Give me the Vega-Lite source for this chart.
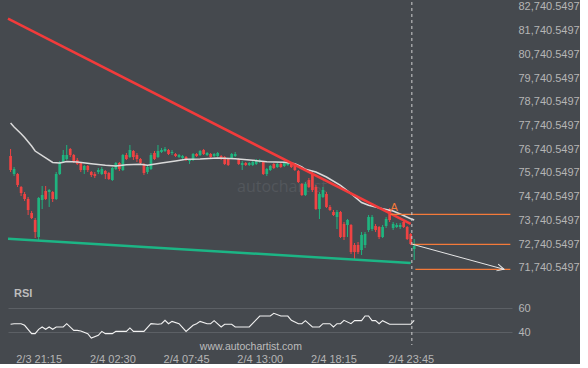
{
"$schema": "https://vega.github.io/schema/vega-lite/v6.json",
"width": 504, "height": 343,
"padding": {"left": 3, "top": 0, "right": 0, "bottom": 0},
"background": "#45494e",
"config": {"view": {"stroke": null}, "font": "Liberation Sans",
  "axis": {"domain": false, "ticks": false, "grid": false, "labelColor": "#b5b5b5", "labelFontSize": 11, "labelFlush": false, "labelOverlap": false, "labelSeparation": -40, "labelFont": "Liberation Sans"}},
"encoding": {
  "x": {"field": "t", "type": "temporal",
    "scale": {"type": "utc", "padding": 0, "domain": [{"year": 2026, "month": 2, "date": 3, "hours": 19, "minutes": 4, "utc": true}, {"year": 2026, "month": 2, "date": 5, "hours": 6, "minutes": 58, "utc": true}]},
    "axis": {"title": null, "format": "%-m/%-d %H:%M", "labelPadding": 8, "labelOverlap": false,
      "values": [
        {"year": 2026, "month": 2, "date": 3, "hours": 21, "minutes": 15, "utc": true},
        {"year": 2026, "month": 2, "date": 4, "hours": 2, "minutes": 30, "utc": true},
        {"year": 2026, "month": 2, "date": 4, "hours": 7, "minutes": 45, "utc": true},
        {"year": 2026, "month": 2, "date": 4, "hours": 13, "minutes": 0, "utc": true},
        {"year": 2026, "month": 2, "date": 4, "hours": 18, "minutes": 15, "utc": true},
        {"year": 2026, "month": 2, "date": 4, "hours": 23, "minutes": 45, "utc": true}]}}
},
"layer": [
 {"layer": [
  {"data": {"values": [{"t": "2026-02-04T14:35:00Z", "v": 74935}]},
   "mark": {"type": "text", "text": "autochartist", "font": "Open Sans", "fontSize": 16, "letterSpacing": 2.5, "color": "#53575c", "align": "center", "baseline": "alphabetic"},
   "encoding": {"y": {"field": "v", "type": "quantitative", "scale": {"domain": [68480.3, 82951.5], "zero": false, "nice": false}, "axis": {"orient": "right", "title": null, "format": ",.4f", "labelPadding": 6, "labelOverlap": false, "labelSeparation": -40, "labelBound": false, "values": [71740.5497, 72740.5497, 73740.5497, 74740.5497, 75740.5497, 76740.5497, 77740.5497, 78740.5497, 79740.5497, 80740.5497, 81740.5497, 82740.5497]}}}},
  {"data": {"name": "candles"},
   "mark": {"type": "rule", "strokeWidth": 1},
   "encoding": {
     "y": {"field": "l", "type": "quantitative", "scale": {"domain": [68480.3, 82951.5], "zero": false, "nice": false},
       "axis": {"orient": "right", "title": null, "format": ",.4f", "labelPadding": 6, "labelOverlap": false, "labelSeparation": -40, "labelBound": false, "values": [71740.5497, 72740.5497, 73740.5497, 74740.5497, 75740.5497, 76740.5497, 77740.5497, 78740.5497, 79740.5497, 80740.5497, 81740.5497, 82740.5497]}},
     "y2": {"field": "h"},
     "color": {"condition": {"test": "datum.c < datum.o", "value": "#ef4343"}, "value": "#1fb47f"}}},
  {"data": {"name": "candles"},
   "mark": {"type": "bar", "size": 2.7},
   "encoding": {
     "y": {"field": "o", "type": "quantitative", "scale": {"domain": [68480.3, 82951.5], "zero": false, "nice": false}, "axis": {"orient": "right", "title": null, "format": ",.4f", "labelPadding": 6, "labelOverlap": false, "labelSeparation": -40, "labelBound": false, "values": [71740.5497, 72740.5497, 73740.5497, 74740.5497, 75740.5497, 76740.5497, 77740.5497, 78740.5497, 79740.5497, 80740.5497, 81740.5497, 82740.5497]}},
     "y2": {"field": "c"},
     "color": {"condition": {"test": "datum.c < datum.o", "value": "#ef4343"}, "value": "#1fb47f"}}},
  {"data": {"name": "ma"},
   "mark": {"type": "line", "color": "#dadada", "strokeWidth": 1.5},
   "encoding": {"y": {"field": "v", "type": "quantitative", "scale": {"domain": [68480.3, 82951.5], "zero": false, "nice": false}, "axis": {"orient": "right", "title": null, "format": ",.4f", "labelPadding": 6, "labelOverlap": false, "labelSeparation": -40, "labelBound": false, "values": [71740.5497, 72740.5497, 73740.5497, 74740.5497, 75740.5497, 76740.5497, 77740.5497, 78740.5497, 79740.5497, 80740.5497, 81740.5497, 82740.5497]}}}},
  {"data": {"values": [{"t": "2026-02-03T19:04:00Z", "v": 82247}, {"t": "2026-02-04T23:45:00Z", "v": 73594}]},
   "mark": {"type": "line", "color": "#f23b3b", "strokeWidth": 2.5},
   "encoding": {"y": {"field": "v", "type": "quantitative", "scale": {"domain": [68480.3, 82951.5], "zero": false, "nice": false}, "axis": {"orient": "right", "title": null, "format": ",.4f", "labelPadding": 6, "labelOverlap": false, "labelSeparation": -40, "labelBound": false, "values": [71740.5497, 72740.5497, 73740.5497, 74740.5497, 75740.5497, 76740.5497, 77740.5497, 78740.5497, 79740.5497, 80740.5497, 81740.5497, 82740.5497]}}}},
  {"data": {"values": [{"t": "2026-02-03T19:04:00Z", "v": 72965}, {"t": "2026-02-04T23:45:00Z", "v": 71940}]},
   "mark": {"type": "line", "color": "#1cb585", "strokeWidth": 2.5},
   "encoding": {"y": {"field": "v", "type": "quantitative", "scale": {"domain": [68480.3, 82951.5], "zero": false, "nice": false}, "axis": {"orient": "right", "title": null, "format": ",.4f", "labelPadding": 6, "labelOverlap": false, "labelSeparation": -40, "labelBound": false, "values": [71740.5497, 72740.5497, 73740.5497, 74740.5497, 75740.5497, 76740.5497, 77740.5497, 78740.5497, 79740.5497, 80740.5497, 81740.5497, 82740.5497]}}}},
  {"data": {"values": [
     {"id": 1, "t": "2026-02-04T22:18:00Z", "v": 73995}, {"id": 1, "t": "2026-02-05T06:51:00Z", "v": 73995},
     {"id": 2, "t": "2026-02-04T23:50:00Z", "v": 72729}, {"id": 2, "t": "2026-02-05T06:51:00Z", "v": 72729},
     {"id": 3, "t": "2026-02-05T00:05:00Z", "v": 71674}, {"id": 3, "t": "2026-02-05T06:51:00Z", "v": 71674}]},
   "mark": {"type": "line", "color": "#f47a3a", "strokeWidth": 1.3},
   "encoding": {"detail": {"field": "id"}, "y": {"field": "v", "type": "quantitative", "scale": {"domain": [68480.3, 82951.5], "zero": false, "nice": false}, "axis": {"orient": "right", "title": null, "format": ",.4f", "labelPadding": 6, "labelOverlap": false, "labelSeparation": -40, "labelBound": false, "values": [71740.5497, 72740.5497, 73740.5497, 74740.5497, 75740.5497, 76740.5497, 77740.5497, 78740.5497, 79740.5497, 80740.5497, 81740.5497, 82740.5497]}}}},
  {"data": {"values": [{"t": "2026-02-04T23:53:00Z", "v": 72729}, {"t": "2026-02-05T06:24:00Z", "v": 71674}]},
   "mark": {"type": "line", "color": "#e6e6e6", "strokeWidth": 1},
   "encoding": {"y": {"field": "v", "type": "quantitative", "scale": {"domain": [68480.3, 82951.5], "zero": false, "nice": false}, "axis": {"orient": "right", "title": null, "format": ",.4f", "labelPadding": 6, "labelOverlap": false, "labelSeparation": -40, "labelBound": false, "values": [71740.5497, 72740.5497, 73740.5497, 74740.5497, 75740.5497, 76740.5497, 77740.5497, 78740.5497, 79740.5497, 80740.5497, 81740.5497, 82740.5497]}}}},
  {"data": {"values": [{"t": "2026-02-05T06:24:00Z", "v": 71674}]},
   "mark": {"type": "point", "shape": "M-2,-1L0,0L-2,1", "filled": false, "stroke": "#e6e6e6", "strokeWidth": 1, "size": 49, "angle": 15, "opacity": 1},
   "encoding": {"y": {"field": "v", "type": "quantitative", "scale": {"domain": [68480.3, 82951.5], "zero": false, "nice": false}, "axis": {"orient": "right", "title": null, "format": ",.4f", "labelPadding": 6, "labelOverlap": false, "labelSeparation": -40, "labelBound": false, "values": [71740.5497, 72740.5497, 73740.5497, 74740.5497, 75740.5497, 76740.5497, 77740.5497, 78740.5497, 79740.5497, 80740.5497, 81740.5497, 82740.5497]}}}},
  {"data": {"values": [{"t": "2026-02-04T22:34:00Z", "v": 74260}]},
   "mark": {"type": "text", "text": "A", "fontSize": 11, "color": "#f47a3a", "align": "center", "baseline": "middle"},
   "encoding": {"y": {"field": "v", "type": "quantitative", "scale": {"domain": [68480.3, 82951.5], "zero": false, "nice": false}, "axis": {"orient": "right", "title": null, "format": ",.4f", "labelPadding": 6, "labelOverlap": false, "labelSeparation": -40, "labelBound": false, "values": [71740.5497, 72740.5497, 73740.5497, 74740.5497, 75740.5497, 76740.5497, 77740.5497, 78740.5497, 79740.5497, 80740.5497, 81740.5497, 82740.5497]}}}}
 ]},
 {"layer": [
  {"data": {"name": "rsi"},
   "mark": {"type": "line", "color": "#f2f2f2", "strokeWidth": 1.1},
   "encoding": {"y": {"field": "r", "type": "quantitative", "scale": {"domain": [29.59, 311.5], "zero": false, "nice": false},
     "axis": {"orient": "right", "title": null, "values": [40, 60], "grid": true, "gridColor": "#5c6065", "gridWidth": 1, "labelPadding": 6, "labelOverlap": false}}}},
  {"data": {"values": [{"t": "2026-02-04T23:50:00Z"}]},
   "mark": {"type": "rule", "color": "#d0d0d0", "strokeWidth": 1, "strokeDash": [3, 3]},
   "encoding": {}},
  {"data": {"values": [{"t": "2026-02-03T19:30:00Z", "r": 71.5}]},
   "mark": {"type": "text", "text": "RSI", "fontSize": 11, "fontWeight": "bold", "color": "#bdbdbd", "align": "left", "baseline": "middle"},
   "encoding": {"y": {"field": "r", "type": "quantitative", "scale": {"domain": [29.59, 311.5], "zero": false, "nice": false}, "axis": {"orient": "right", "title": null, "values": [40, 60], "grid": true, "gridColor": "#5c6065", "gridWidth": 1, "labelPadding": 6, "labelOverlap": false}}}},
  {"data": {"values": [{"t": "2026-02-04T12:22:00Z", "r": 27.9}]},
   "mark": {"type": "text", "text": "www.autochartist.com", "fontSize": 10.5, "color": "#bdbdbd", "align": "center", "baseline": "middle"},
   "encoding": {"y": {"field": "r", "type": "quantitative", "scale": {"domain": [29.59, 311.5], "zero": false, "nice": false}, "axis": {"orient": "right", "title": null, "values": [40, 60], "grid": true, "gridColor": "#5c6065", "gridWidth": 1, "labelPadding": 6, "labelOverlap": false}}}}
 ]}
],
"resolve": {"scale": {"y": "independent"}, "axis": {"y": "independent"}},
"datasets": {
 "candles": [
{"t":"2026-02-03T19:15:00Z","o":76454,"h":76750,"l":75779,"c":75864},
{"t":"2026-02-03T19:30:00Z","o":75695,"h":75990,"l":75610,"c":75906},
{"t":"2026-02-03T19:45:00Z","o":75695,"h":75737,"l":75146,"c":75231},
{"t":"2026-02-03T20:00:00Z","o":75146,"h":75189,"l":74767,"c":74893},
{"t":"2026-02-03T20:15:00Z","o":74851,"h":74935,"l":74556,"c":74640},
{"t":"2026-02-03T20:30:00Z","o":74640,"h":74724,"l":73965,"c":74176},
{"t":"2026-02-03T20:45:00Z","o":74049,"h":74134,"l":73796,"c":73838},
{"t":"2026-02-03T21:00:00Z","o":73754,"h":73838,"l":72994,"c":73248},
{"t":"2026-02-03T21:15:00Z","o":73037,"h":74724,"l":72910,"c":74682},
{"t":"2026-02-03T21:30:00Z","o":74598,"h":75189,"l":74218,"c":74809},
{"t":"2026-02-03T21:45:00Z","o":74978,"h":75189,"l":74598,"c":74640},
{"t":"2026-02-03T22:00:00Z","o":74935,"h":75062,"l":74303,"c":75020},
{"t":"2026-02-03T22:15:00Z","o":74935,"h":74978,"l":74514,"c":74640},
{"t":"2026-02-03T22:30:00Z","o":74640,"h":75779,"l":74598,"c":75695},
{"t":"2026-02-03T22:45:00Z","o":75695,"h":76243,"l":75653,"c":76159},
{"t":"2026-02-03T23:00:00Z","o":76201,"h":76707,"l":76159,"c":76496},
{"t":"2026-02-03T23:15:00Z","o":76328,"h":76918,"l":76286,"c":76496},
{"t":"2026-02-03T23:30:00Z","o":76750,"h":76792,"l":76412,"c":76496},
{"t":"2026-02-03T23:45:00Z","o":76496,"h":76539,"l":76159,"c":76201},
{"t":"2026-02-04T00:00:00Z","o":76286,"h":76370,"l":76075,"c":76117},
{"t":"2026-02-04T00:15:00Z","o":76159,"h":76201,"l":75779,"c":75864},
{"t":"2026-02-04T00:30:00Z","o":75864,"h":76075,"l":75695,"c":76032},
{"t":"2026-02-04T00:45:00Z","o":76032,"h":76075,"l":75779,"c":75864},
{"t":"2026-02-04T01:00:00Z","o":75779,"h":75821,"l":75568,"c":75653},
{"t":"2026-02-04T01:15:00Z","o":75695,"h":75779,"l":75526,"c":75610},
{"t":"2026-02-04T01:30:00Z","o":75779,"h":75948,"l":75695,"c":75864},
{"t":"2026-02-04T01:45:00Z","o":75695,"h":75990,"l":75653,"c":75906},
{"t":"2026-02-04T02:00:00Z","o":75821,"h":75864,"l":75484,"c":75695},
{"t":"2026-02-04T02:15:00Z","o":75737,"h":75779,"l":75442,"c":75484},
{"t":"2026-02-04T02:30:00Z","o":75442,"h":75990,"l":75400,"c":75948},
{"t":"2026-02-04T02:45:00Z","o":75906,"h":76201,"l":75864,"c":76159},
{"t":"2026-02-04T03:00:00Z","o":76159,"h":76201,"l":75821,"c":75906},
{"t":"2026-02-04T03:15:00Z","o":75864,"h":76539,"l":75821,"c":76496},
{"t":"2026-02-04T03:30:00Z","o":76496,"h":76581,"l":76286,"c":76328},
{"t":"2026-02-04T03:45:00Z","o":76412,"h":76918,"l":76370,"c":76707},
{"t":"2026-02-04T04:00:00Z","o":76665,"h":76707,"l":76286,"c":76412},
{"t":"2026-02-04T04:15:00Z","o":76496,"h":76581,"l":76201,"c":76328},
{"t":"2026-02-04T04:30:00Z","o":76328,"h":76370,"l":76117,"c":76159},
{"t":"2026-02-04T04:45:00Z","o":76117,"h":76159,"l":75653,"c":75737},
{"t":"2026-02-04T05:00:00Z","o":75779,"h":76075,"l":75695,"c":75990},
{"t":"2026-02-04T05:15:00Z","o":75906,"h":76581,"l":75864,"c":76496},
{"t":"2026-02-04T05:30:00Z","o":76581,"h":76665,"l":76286,"c":76328},
{"t":"2026-02-04T05:45:00Z","o":76412,"h":76918,"l":76370,"c":76665},
{"t":"2026-02-04T06:00:00Z","o":76623,"h":76792,"l":76581,"c":76707},
{"t":"2026-02-04T06:15:00Z","o":76665,"h":76834,"l":76623,"c":76750},
{"t":"2026-02-04T06:30:00Z","o":76707,"h":76750,"l":76496,"c":76539},
{"t":"2026-02-04T06:45:00Z","o":76581,"h":76707,"l":76496,"c":76623},
{"t":"2026-02-04T07:00:00Z","o":76539,"h":76581,"l":76412,"c":76454},
{"t":"2026-02-04T07:15:00Z","o":76412,"h":76539,"l":76370,"c":76496},
{"t":"2026-02-04T07:30:00Z","o":76370,"h":76496,"l":76328,"c":76454},
{"t":"2026-02-04T07:45:00Z","o":76412,"h":76454,"l":76243,"c":76286},
{"t":"2026-02-04T08:00:00Z","o":76243,"h":76328,"l":76117,"c":76286},
{"t":"2026-02-04T08:15:00Z","o":76286,"h":76581,"l":76243,"c":76539},
{"t":"2026-02-04T08:30:00Z","o":76539,"h":76581,"l":76412,"c":76454},
{"t":"2026-02-04T08:45:00Z","o":76496,"h":76707,"l":76454,"c":76665},
{"t":"2026-02-04T09:00:00Z","o":76707,"h":76750,"l":76496,"c":76539},
{"t":"2026-02-04T09:15:00Z","o":76496,"h":76623,"l":76454,"c":76581},
{"t":"2026-02-04T09:30:00Z","o":76539,"h":76581,"l":76370,"c":76412},
{"t":"2026-02-04T09:45:00Z","o":76454,"h":76581,"l":76412,"c":76539},
{"t":"2026-02-04T10:00:00Z","o":76454,"h":76623,"l":76412,"c":76581},
{"t":"2026-02-04T10:15:00Z","o":76454,"h":76496,"l":76286,"c":76328},
{"t":"2026-02-04T10:30:00Z","o":76412,"h":76454,"l":76075,"c":76117},
{"t":"2026-02-04T10:45:00Z","o":76328,"h":76370,"l":76032,"c":76075},
{"t":"2026-02-04T11:00:00Z","o":76370,"h":76581,"l":76328,"c":76539},
{"t":"2026-02-04T11:15:00Z","o":76454,"h":76623,"l":76412,"c":76539},
{"t":"2026-02-04T11:30:00Z","o":76328,"h":76370,"l":76075,"c":76117},
{"t":"2026-02-04T11:45:00Z","o":76075,"h":76243,"l":75864,"c":76159},
{"t":"2026-02-04T12:00:00Z","o":76159,"h":76201,"l":76032,"c":76075},
{"t":"2026-02-04T12:15:00Z","o":76075,"h":76201,"l":76032,"c":76159},
{"t":"2026-02-04T12:30:00Z","o":76075,"h":76243,"l":76032,"c":76201},
{"t":"2026-02-04T12:45:00Z","o":76117,"h":76328,"l":76075,"c":76286},
{"t":"2026-02-04T13:00:00Z","o":76201,"h":76328,"l":76159,"c":76243},
{"t":"2026-02-04T13:15:00Z","o":76201,"h":76243,"l":75653,"c":75695},
{"t":"2026-02-04T13:30:00Z","o":75695,"h":75948,"l":75610,"c":75906},
{"t":"2026-02-04T13:45:00Z","o":75864,"h":76075,"l":75821,"c":76032},
{"t":"2026-02-04T14:00:00Z","o":76117,"h":76159,"l":75906,"c":75948},
{"t":"2026-02-04T14:15:00Z","o":75990,"h":76159,"l":75948,"c":76117},
{"t":"2026-02-04T14:30:00Z","o":76117,"h":76159,"l":75948,"c":75990},
{"t":"2026-02-04T14:45:00Z","o":76032,"h":76201,"l":75990,"c":76159},
{"t":"2026-02-04T15:00:00Z","o":76075,"h":76201,"l":76032,"c":76159},
{"t":"2026-02-04T15:15:00Z","o":76159,"h":76201,"l":75948,"c":75990},
{"t":"2026-02-04T15:30:00Z","o":76075,"h":76117,"l":75821,"c":75864},
{"t":"2026-02-04T15:45:00Z","o":75821,"h":75864,"l":75315,"c":75357},
{"t":"2026-02-04T16:00:00Z","o":75273,"h":75315,"l":74767,"c":74809},
{"t":"2026-02-04T16:15:00Z","o":74809,"h":75357,"l":74767,"c":75273},
{"t":"2026-02-04T16:30:00Z","o":75442,"h":75526,"l":75104,"c":75146},
{"t":"2026-02-04T16:45:00Z","o":75695,"h":75779,"l":74935,"c":75020},
{"t":"2026-02-04T17:00:00Z","o":75146,"h":75231,"l":74176,"c":74218},
{"t":"2026-02-04T17:15:00Z","o":74218,"h":74935,"l":73796,"c":74851},
{"t":"2026-02-04T17:30:00Z","o":74724,"h":75146,"l":74682,"c":75020},
{"t":"2026-02-04T17:45:00Z","o":74851,"h":74935,"l":74260,"c":74303},
{"t":"2026-02-04T18:00:00Z","o":74303,"h":74387,"l":74134,"c":74176},
{"t":"2026-02-04T18:15:00Z","o":74092,"h":74176,"l":73923,"c":73965},
{"t":"2026-02-04T18:30:00Z","o":73881,"h":74176,"l":73374,"c":74092},
{"t":"2026-02-04T18:45:00Z","o":74092,"h":74134,"l":72994,"c":73037},
{"t":"2026-02-04T19:00:00Z","o":73585,"h":73670,"l":72910,"c":73037},
{"t":"2026-02-04T19:15:00Z","o":73543,"h":73796,"l":73037,"c":73754},
{"t":"2026-02-04T19:30:00Z","o":73543,"h":73585,"l":72319,"c":72404},
{"t":"2026-02-04T19:45:00Z","o":72699,"h":72783,"l":72108,"c":72404},
{"t":"2026-02-04T20:00:00Z","o":72699,"h":72826,"l":72319,"c":72404},
{"t":"2026-02-04T20:15:00Z","o":72488,"h":73248,"l":72277,"c":73121},
{"t":"2026-02-04T20:30:00Z","o":72699,"h":73248,"l":72572,"c":73163},
{"t":"2026-02-04T20:45:00Z","o":73332,"h":73965,"l":73248,"c":73881},
{"t":"2026-02-04T21:00:00Z","o":73374,"h":73965,"l":73290,"c":73881},
{"t":"2026-02-04T21:15:00Z","o":73501,"h":73585,"l":73248,"c":73332},
{"t":"2026-02-04T21:30:00Z","o":73459,"h":73501,"l":72952,"c":73037},
{"t":"2026-02-04T21:45:00Z","o":73037,"h":73543,"l":72994,"c":73459},
{"t":"2026-02-04T22:00:00Z","o":73501,"h":73881,"l":73416,"c":73796},
{"t":"2026-02-04T22:15:00Z","o":74218,"h":74260,"l":73670,"c":73754},
{"t":"2026-02-04T22:30:00Z","o":73416,"h":73670,"l":73332,"c":73585},
{"t":"2026-02-04T22:45:00Z","o":73459,"h":73627,"l":73416,"c":73543},
{"t":"2026-02-04T23:00:00Z","o":73459,"h":73627,"l":73374,"c":73543},
{"t":"2026-02-04T23:15:00Z","o":73670,"h":73712,"l":73416,"c":73459},
{"t":"2026-02-04T23:30:00Z","o":73459,"h":73501,"l":72910,"c":72952},
{"t":"2026-02-04T23:45:00Z","o":73163,"h":73205,"l":72699,"c":72741},
{"t":"2026-02-05T00:00:00Z","o":72530,"h":72952,"l":72066,"c":72657}
 ],
 "ma": [
{"t":"2026-02-03T19:15:00Z","v":77846},
{"t":"2026-02-03T19:30:00Z","v":77678},
{"t":"2026-02-03T20:00:00Z","v":77395},
{"t":"2026-02-03T20:15:00Z","v":77235},
{"t":"2026-02-03T20:45:00Z","v":76876},
{"t":"2026-02-03T21:00:00Z","v":76665},
{"t":"2026-02-03T21:45:00Z","v":76370},
{"t":"2026-02-03T22:15:00Z","v":76180},
{"t":"2026-02-03T22:45:00Z","v":76159},
{"t":"2026-02-03T23:15:00Z","v":76222},
{"t":"2026-02-04T00:00:00Z","v":76201},
{"t":"2026-02-04T01:00:00Z","v":76129},
{"t":"2026-02-04T02:00:00Z","v":76062},
{"t":"2026-02-04T02:45:00Z","v":76032},
{"t":"2026-02-04T03:30:00Z","v":76087},
{"t":"2026-02-04T04:30:00Z","v":76104},
{"t":"2026-02-04T05:00:00Z","v":76062},
{"t":"2026-02-04T06:00:00Z","v":76159},
{"t":"2026-02-04T07:00:00Z","v":76243},
{"t":"2026-02-04T07:45:00Z","v":76315},
{"t":"2026-02-04T08:45:00Z","v":76328},
{"t":"2026-02-04T10:00:00Z","v":76370},
{"t":"2026-02-04T11:15:00Z","v":76340},
{"t":"2026-02-04T12:30:00Z","v":76273},
{"t":"2026-02-04T13:30:00Z","v":76214},
{"t":"2026-02-04T14:45:00Z","v":76189},
{"t":"2026-02-04T15:30:00Z","v":76129},
{"t":"2026-02-04T16:00:00Z","v":75990},
{"t":"2026-02-04T16:15:00Z","v":75893},
{"t":"2026-02-04T17:00:00Z","v":75779},
{"t":"2026-02-04T17:45:00Z","v":75568},
{"t":"2026-02-04T18:45:00Z","v":75218},
{"t":"2026-02-04T19:30:00Z","v":74864},
{"t":"2026-02-04T20:15:00Z","v":74492},
{"t":"2026-02-04T20:45:00Z","v":74374},
{"t":"2026-02-04T21:45:00Z","v":74231},
{"t":"2026-02-04T22:30:00Z","v":74134},
{"t":"2026-02-04T23:00:00Z","v":74007},
{"t":"2026-02-04T23:45:00Z","v":73809},
{"t":"2026-02-05T00:00:00Z","v":73754}
 ],
 "rsi": [
{"t":"2026-02-03T19:15:00Z","r":46.6},
{"t":"2026-02-03T19:30:00Z","r":47.1},
{"t":"2026-02-03T20:00:00Z","r":47.1},
{"t":"2026-02-03T20:15:00Z","r":45.8},
{"t":"2026-02-03T20:45:00Z","r":38.9},
{"t":"2026-02-03T21:00:00Z","r":38.9},
{"t":"2026-02-03T21:15:00Z","r":42.5},
{"t":"2026-02-03T21:30:00Z","r":44.4},
{"t":"2026-02-03T21:45:00Z","r":42.5},
{"t":"2026-02-03T22:00:00Z","r":44.4},
{"t":"2026-02-03T22:15:00Z","r":42.5},
{"t":"2026-02-03T22:30:00Z","r":44.4},
{"t":"2026-02-03T23:00:00Z","r":44.4},
{"t":"2026-02-03T23:15:00Z","r":47.1},
{"t":"2026-02-03T23:45:00Z","r":41.6},
{"t":"2026-02-04T00:00:00Z","r":41.6},
{"t":"2026-02-04T00:15:00Z","r":41.1},
{"t":"2026-02-04T00:45:00Z","r":38.9},
{"t":"2026-02-04T01:00:00Z","r":35.3},
{"t":"2026-02-04T01:30:00Z","r":37.5},
{"t":"2026-02-04T01:45:00Z","r":40.8},
{"t":"2026-02-04T02:00:00Z","r":38.9},
{"t":"2026-02-04T02:30:00Z","r":38.9},
{"t":"2026-02-04T02:45:00Z","r":40.8},
{"t":"2026-02-04T03:30:00Z","r":40.8},
{"t":"2026-02-04T03:45:00Z","r":43.6},
{"t":"2026-02-04T04:00:00Z","r":40.8},
{"t":"2026-02-04T04:45:00Z","r":40.8},
{"t":"2026-02-04T05:15:00Z","r":47.1},
{"t":"2026-02-04T05:45:00Z","r":46.6},
{"t":"2026-02-04T06:00:00Z","r":47.1},
{"t":"2026-02-04T06:15:00Z","r":49.9},
{"t":"2026-02-04T06:30:00Z","r":47.1},
{"t":"2026-02-04T06:45:00Z","r":49.0},
{"t":"2026-02-04T07:15:00Z","r":47.1},
{"t":"2026-02-04T07:45:00Z","r":40.8},
{"t":"2026-02-04T08:15:00Z","r":45.8},
{"t":"2026-02-04T08:30:00Z","r":47.1},
{"t":"2026-02-04T08:45:00Z","r":49.0},
{"t":"2026-02-04T09:15:00Z","r":47.1},
{"t":"2026-02-04T09:30:00Z","r":47.1},
{"t":"2026-02-04T09:45:00Z","r":49.6},
{"t":"2026-02-04T10:15:00Z","r":44.4},
{"t":"2026-02-04T10:30:00Z","r":46.6},
{"t":"2026-02-04T11:00:00Z","r":46.6},
{"t":"2026-02-04T11:15:00Z","r":44.4},
{"t":"2026-02-04T12:15:00Z","r":44.4},
{"t":"2026-02-04T13:00:00Z","r":53.4},
{"t":"2026-02-04T13:45:00Z","r":53.4},
{"t":"2026-02-04T14:00:00Z","r":55.6},
{"t":"2026-02-04T14:30:00Z","r":53.4},
{"t":"2026-02-04T15:00:00Z","r":53.4},
{"t":"2026-02-04T15:15:00Z","r":49.9},
{"t":"2026-02-04T15:45:00Z","r":47.1},
{"t":"2026-02-04T16:00:00Z","r":47.1},
{"t":"2026-02-04T16:15:00Z","r":49.6},
{"t":"2026-02-04T16:45:00Z","r":44.4},
{"t":"2026-02-04T17:15:00Z","r":44.4},
{"t":"2026-02-04T17:30:00Z","r":47.1},
{"t":"2026-02-04T18:00:00Z","r":47.1},
{"t":"2026-02-04T18:15:00Z","r":44.4},
{"t":"2026-02-04T18:30:00Z","r":47.1},
{"t":"2026-02-04T18:45:00Z","r":47.1},
{"t":"2026-02-04T19:00:00Z","r":49.9},
{"t":"2026-02-04T19:30:00Z","r":47.1},
{"t":"2026-02-04T19:45:00Z","r":49.6},
{"t":"2026-02-04T20:15:00Z","r":49.6},
{"t":"2026-02-04T20:30:00Z","r":53.4},
{"t":"2026-02-04T20:45:00Z","r":53.4},
{"t":"2026-02-04T21:00:00Z","r":49.6},
{"t":"2026-02-04T21:15:00Z","r":49.6},
{"t":"2026-02-04T21:30:00Z","r":47.1},
{"t":"2026-02-04T21:45:00Z","r":49.6},
{"t":"2026-02-04T22:15:00Z","r":46.6},
{"t":"2026-02-04T23:45:00Z","r":46.6},
{"t":"2026-02-05T00:00:00Z","r":49.9}
 ]
}
}
